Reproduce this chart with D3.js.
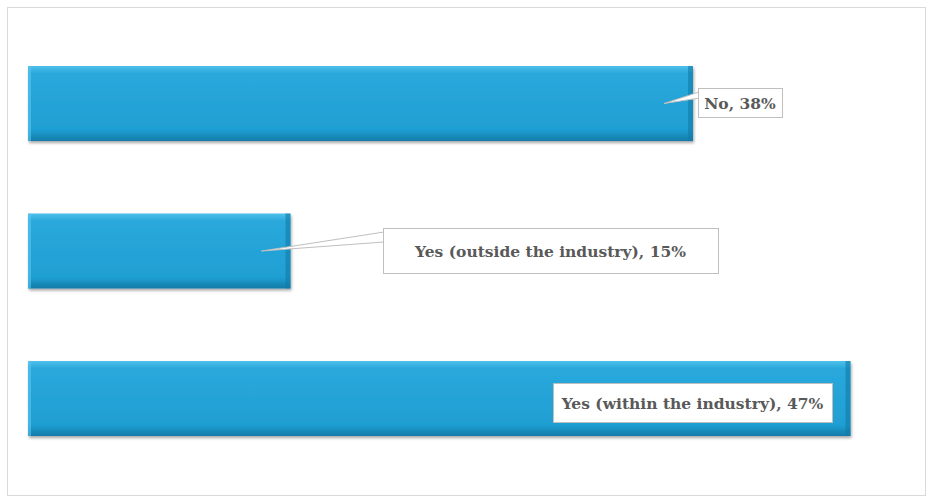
<!DOCTYPE html>
<html><head><meta charset="utf-8">
<script src="https://cdn.jsdelivr.net/npm/d3@7"></script>
<style>body{margin:0;background:#fff}</style>
</head><body><div class="canvas"></div>
<script>
const categories = ['No', 'Yes (outside the industry)', 'Yes (within the industry)'];
const values = [38, 15, 47];
const labels = ['No, 38%', 'Yes (outside the industry), 15%', 'Yes (within the industry), 47%'];

const svg = d3.select('.canvas').append('svg')
    .attr('width', 932).attr('height', 502);

svg.append('rect').attr('x', 7.5).attr('y', 7.5).attr('width', 918).attr('height', 488)
    .attr('fill', '#fff').attr('stroke', '#d9d9d9');

const x = d3.scaleLinear().domain([0, 100]).range([28, 1778]);
const y = d3.scaleBand().domain(categories).range([66, 436]).paddingInner(0.4915).paddingOuter(0);

const defs = svg.append('defs');
const g = defs.append('linearGradient').attr('id', 'bar').attr('x1', 0).attr('y1', 0).attr('x2', 0).attr('y2', 1);
g.append('stop').attr('offset', '0%').attr('stop-color', '#4fc0ea');
g.append('stop').attr('offset', '10%').attr('stop-color', '#2aa8dc');
g.append('stop').attr('offset', '85%').attr('stop-color', '#1f9fd3');
g.append('stop').attr('offset', '100%').attr('stop-color', '#137ba8');
const f = defs.append('filter').attr('id', 'sh').attr('x', '-5%').attr('y', '-10%').attr('width', '110%').attr('height', '130%');
f.append('feDropShadow').attr('dx', 1).attr('dy', 2).attr('stdDeviation', 1.5).attr('flood-color', '#000').attr('flood-opacity', 0.35);

const bars = svg.selectAll('g.bar').data(categories).enter().append('g');
bars.append('rect')
    .attr('x', x(0)).attr('y', d => y(d))
    .attr('width', (d, i) => x(values[i]) - x(0)).attr('height', y.bandwidth())
    .attr('fill', 'url(#bar)').attr('filter', 'url(#sh)');
// bevel edges
bars.append('rect')
    .attr('x', (d, i) => x(values[i]) - 5).attr('y', d => y(d))
    .attr('width', 5).attr('height', y.bandwidth())
    .attr('fill', '#137ba8').attr('opacity', 0.6);
bars.append('rect')
    .attr('x', x(0)).attr('y', d => y(d))
    .attr('width', 3).attr('height', y.bandwidth())
    .attr('fill', '#5cc6ee').attr('opacity', 0.6);

// callout boxes and anchor point in the bar
const boxes = [
    {bx: 698, by: 88, bw: 84, bh: 29},
    {bx: 383, by: 228, bw: 335, bh: 45},
    {bx: 553, by: 383, bw: 279, bh: 39}
];
boxes.forEach((b, i) => {
    const ax = x(values[i]) - 29, ay = y(categories[i]) + y.bandwidth() / 2;
    const grp = svg.append('g');
    if (ax < b.bx) {
        grp.append('path')
            .attr('d', `M${b.bx + 1},${b.by + 4} L${ax},${ay} L${b.bx + 1},${b.by + Math.min(14, b.bh * 0.35)}`)
            .attr('fill', '#fff').attr('stroke', '#bfbfbf');
    }
    grp.append('rect').attr('x', b.bx + 0.5).attr('y', b.by + 0.5)
        .attr('width', b.bw).attr('height', b.bh)
        .attr('fill', '#fff').attr('stroke', '#bfbfbf');
    grp.append('rect').attr('x', b.bx + 1.5).attr('y', b.by + 2).attr('width', 1.5).attr('height', Math.min(13, b.bh * 0.35) - 1)
        .attr('fill', '#fff');
    grp.append('text').attr('x', b.bx + b.bw / 2).attr('y', b.by + b.bh / 2 + 6)
        .attr('text-anchor', 'middle')
        .attr('font-family', 'DejaVu Serif, serif').attr('font-weight', 'bold')
        .attr('font-size', 15.5).attr('fill', '#595959')
        .text(labels[i]);
});
</script></body></html>
